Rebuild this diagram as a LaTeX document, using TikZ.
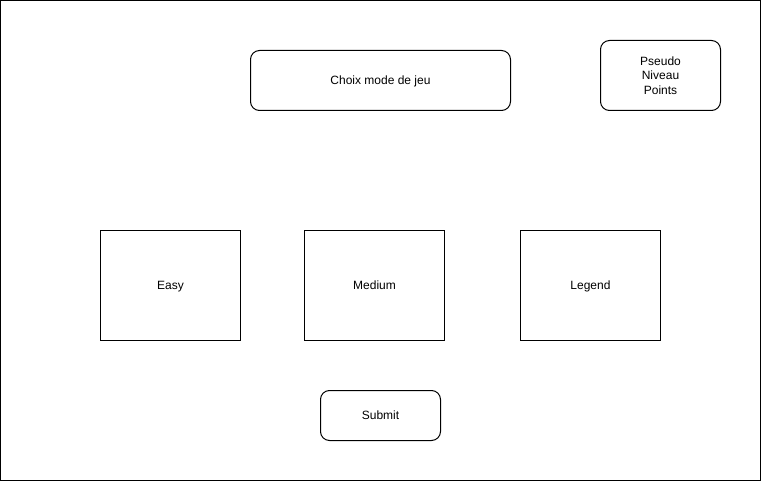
\documentclass[tikz,border=0pt]{standalone}
\usepackage{fontspec}
\setmainfont{Liberation Sans}
\begin{document}
\begin{tikzpicture}[x=1pt,y=-1pt,
  base/.style={draw=black,line width=1pt,fill=white,font=\fontsize{12}{14.5}\selectfont,align=center,inner sep=0pt},
  box/.style={base,text height=10.4pt,text depth=2.5pt},
  rbox/.style={box,rounded corners=9pt}]
\useasboundingbox (0,0) rectangle (761,481);
\node[draw=black,line width=1pt,minimum width=760pt,minimum height=480pt,inner sep=0pt] (frame) at (380.5,240.5) {};
\node[rbox,minimum width=260pt,minimum height=60pt] (choix) at (380.5,80.5) {Choix mode de jeu};
\node[base,rounded corners=9pt,minimum width=120pt,minimum height=70pt] (info) at (660.5,75.5) {Pseudo\\Niveau\\Points};
\node[box,minimum width=140pt,minimum height=110pt] (easy) at (170.5,285.5) {Easy};
\node[box,minimum width=140pt,minimum height=110pt] (medium) at (374.5,285.5) {Medium};
\node[box,minimum width=140pt,minimum height=110pt] (legend) at (590.5,285.5) {Legend};
\node[rbox,minimum width=120pt,minimum height=50pt] (submit) at (380.5,415.5) {Submit};
\end{tikzpicture}
\end{document}
